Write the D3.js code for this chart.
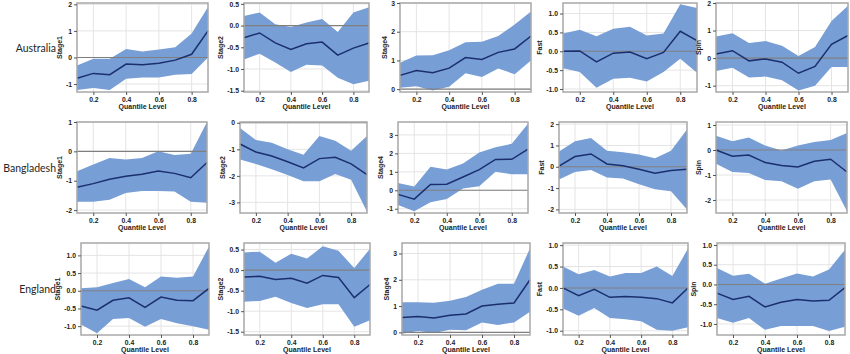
<!DOCTYPE html>
<html><head><meta charset="utf-8">
<script src="https://cdn.jsdelivr.net/npm/d3@7"></script>
<style>body{margin:0;background:#fff}svg{display:block}</style>
</head><body>
<script>
// ---------- DATA ----------
const quantiles = [0.1,0.2,0.3,0.4,0.5,0.6,0.7,0.8,0.9];
const countries = ["Australia","Bangladesh","England"];
const stages = ["Stage1","Stage2","Stage4","Fast","Spin"];
const xTicks = [0.2,0.4,0.6,0.8];
const xTitle = "Quantile Level";

// Australia (rows = Stage1, Stage2, Stage4, Fast, Spin)
const ausMid = [
  [-0.78,-0.60,-0.65,-0.25,-0.27,-0.22,-0.10,0.12,1.00],
  [-0.28,-0.17,-0.40,-0.55,-0.42,-0.38,-0.68,-0.52,-0.40],
  [0.48,0.65,0.57,0.73,1.10,1.03,1.28,1.40,1.85],
  [0.00,0.01,-0.28,-0.05,-0.02,-0.20,-0.03,0.53,0.28],
  [0.15,0.27,-0.10,-0.03,-0.15,-0.55,-0.30,0.50,0.82]];
const ausLo = [
  [-1.22,-1.15,-1.22,-0.80,-0.75,-0.75,-0.65,-0.62,0.00],
  [-0.78,-0.65,-0.85,-1.07,-0.90,-0.92,-1.20,-1.35,-1.27],
  [0.05,0.10,-0.05,0.08,0.55,0.42,0.72,0.52,1.00],
  [-0.45,-0.55,-0.97,-0.73,-0.70,-0.80,-0.55,-0.20,-0.57],
  [-0.47,-0.35,-0.70,-0.67,-0.80,-1.18,-1.00,-0.32,-0.32]];
const ausHi = [
  [-0.30,-0.05,-0.05,0.32,0.22,0.30,0.38,0.90,1.90],
  [0.22,0.30,0.03,-0.03,0.07,0.15,-0.15,0.30,0.42],
  [0.92,1.17,1.18,1.35,1.63,1.65,1.85,2.25,2.70],
  [0.47,0.57,0.40,0.60,0.65,0.42,0.47,1.25,1.15],
  [0.78,0.90,0.55,0.62,0.45,0.08,0.40,1.35,1.90]];

// Bangladesh
const banMid = [
  [-1.22,-1.10,-0.95,-0.85,-0.78,-0.67,-0.75,-0.90,-0.38],
  [-0.80,-1.10,-1.25,-1.47,-1.70,-1.35,-1.30,-1.55,-1.95],
  [-0.22,-0.48,0.32,0.33,0.72,1.12,1.67,1.68,2.23],
  [0.03,0.48,0.60,0.13,0.05,-0.12,-0.30,-0.18,-0.12],
  [0.00,-0.25,-0.20,-0.50,-0.62,-0.68,-0.45,-0.37,-0.88]];
const banLo = [
  [-1.72,-1.72,-1.65,-1.42,-1.35,-1.35,-1.37,-1.72,-1.75],
  [-1.38,-1.55,-1.75,-1.97,-2.20,-2.20,-1.93,-2.15,-3.35],
  [-0.80,-1.13,-0.65,-0.47,0.10,0.22,1.00,0.87,0.87],
  [-0.60,-0.25,-0.15,-0.50,-0.55,-0.82,-1.05,-1.15,-2.00],
  [-0.55,-0.88,-0.92,-1.20,-1.25,-1.55,-1.25,-1.18,-2.45]];
const banHi = [
  [-0.68,-0.45,-0.23,-0.28,-0.23,0.00,-0.12,-0.08,1.00],
  [-0.20,-0.65,-0.75,-1.00,-1.20,-0.50,-0.68,-1.05,-0.50],
  [0.40,0.20,1.28,1.13,1.45,2.05,2.33,2.52,3.60],
  [0.72,1.20,1.35,0.75,0.68,0.58,0.40,0.75,1.75],
  [0.57,0.35,0.50,0.18,-0.02,0.18,0.32,0.40,0.68]];

// England
const engMid = [
  [-0.43,-0.55,-0.27,-0.20,-0.47,-0.18,-0.27,-0.28,0.07],
  [-0.17,-0.15,-0.23,-0.20,-0.32,-0.13,-0.18,-0.67,-0.35],
  [0.57,0.60,0.55,0.65,0.70,1.00,1.07,1.12,2.00],
  [0.00,-0.18,-0.03,-0.22,-0.20,-0.22,-0.25,-0.35,0.00],
  [-0.22,-0.38,-0.30,-0.57,-0.45,-0.38,-0.42,-0.40,-0.08]];
const engLo = [
  [-0.95,-1.20,-0.80,-0.77,-1.02,-0.80,-0.92,-1.00,-1.10],
  [-0.77,-0.75,-0.65,-0.80,-0.92,-0.83,-0.83,-1.38,-1.22],
  [-0.05,0.05,-0.02,0.10,0.08,0.38,0.28,0.38,0.78],
  [-0.48,-0.65,-0.47,-0.70,-0.73,-0.78,-0.98,-1.00,-0.92],
  [-0.85,-0.97,-0.85,-1.15,-1.05,-1.05,-1.05,-1.18,-1.07]];
const engHi = [
  [0.07,0.10,0.22,0.33,0.10,0.40,0.37,0.40,1.25],
  [0.43,0.45,0.18,0.40,0.28,0.58,0.47,0.05,0.52],
  [1.15,1.15,1.13,1.20,1.35,1.62,1.85,1.85,3.20],
  [0.50,0.32,0.42,0.27,0.35,0.35,0.50,0.28,0.92],
  [0.42,0.22,0.27,0.02,0.15,0.28,0.20,0.38,0.88]];

// y tick labels per panel
const ausTicks = [[-1,0,1,2],[-1.5,-1.0,-0.5,0.0,0.5],[0,1,2,3],[-1.0,-0.5,0.0,0.5,1.0],[-1,0,1,2]];
const banTicks = [[-2,-1,0,1],[-3,-2,-1,0],[-1,0,1,2,3],[-2,-1,0,1,2],[-2,-1,0,1]];
const engTicks = [[-1.0,-0.5,0.0,0.5,1.0],[-1.5,-1.0,-0.5,0.0,0.5],[0,1,2,3],[-1.0,-0.5,0.0,0.5,1.0],[-1.0,-0.5,0.0,0.5,1.0]];
const decimalTicks = [[false,true,false,true,false],[false,false,false,false,false],[true,true,false,true,true]];

// y-axis extents per panel
const ausDomain = [[-1.3,2.05],[-1.53,0.52],[-0.1,3.0],[-1.08,1.28],[-1.23,2.0]];
const banDomain = [[-2.1,1.0],[-3.4,0.03],[-1.23,3.7],[-2.17,2.1],[-2.52,1.12]];
const engDomain = [[-1.25,1.35],[-1.58,0.66],[-0.1,3.4],[-1.1,1.05],[-1.28,1.05]];

const mids = [ausMid, banMid, engMid];
const los = [ausLo, banLo, engLo];
const his = [ausHi, banHi, engHi];
const ticksAll = [ausTicks, banTicks, engTicks];
const domains = [ausDomain, banDomain, engDomain];

// ---------- LAYOUT ----------
const W = 850, H = 354;
const rowBox = [[3,92],[122,213],[243,335]];
const colBox = [
  [[77,208],[244,369],[400,531],[563,697],[716,848]],
  [[77,207],[240,367],[398,528],[559,687],[716,847]],
  [[81,209],[244,370],[402,530],[563,688],[717,845]]];
const labelRight = 56;

const BAND = "#789ed6", LINE = "#1b2f6d", FRAME = "#a8a8a8", GRID = "#e4e4e4", ZERO = "#7f7f7f";
const tickFont = "Liberation Sans, Arial, sans-serif";

const svg = d3.select("body").append("svg").attr("width", W).attr("height", H);

function fmt(v, dec){
  const s = dec ? v.toFixed(1) : String(Math.round(v));
  return s.replace("\u2212","-");
}

countries.forEach((country, r) => {
  const [top, bottom] = rowBox[r];
  svg.append("text")
    .attr("x", labelRight).attr("y", (top+bottom)/2 + 4)
    .attr("text-anchor","end")
    .attr("font-family","Lato, Open Sans, sans-serif")
    .attr("font-size", 10.5).attr("fill","#262626")
    .text(country);

  stages.forEach((stage, c) => {
    const [left, right] = colBox[r][c];
    const x = d3.scaleLinear().domain([0.1,0.9]).range([left, right]);
    const y = d3.scaleLinear().domain(domains[r][c]).range([bottom, top]);
    const g = svg.append("g");
    const yt = ticksAll[r][c];
    const dec = decimalTicks[r][c];

    // grid
    g.selectAll(".gx").data(xTicks).enter().append("line")
      .attr("x1", d=>x(d)).attr("x2", d=>x(d)).attr("y1", top).attr("y2", bottom)
      .attr("stroke", GRID).attr("stroke-width",1);
    g.selectAll(".gy").data(yt).enter().append("line")
      .attr("x1", left).attr("x2", right).attr("y1", d=>y(d)).attr("y2", d=>y(d))
      .attr("stroke", GRID).attr("stroke-width",1);

    const pts = quantiles.map((q,i)=>({q, m: mids[r][c][i], lo: los[r][c][i], hi: his[r][c][i]}));
    g.append("path").datum(pts)
      .attr("d", d3.area().x(d=>x(d.q)).y0(d=>y(d.lo)).y1(d=>y(d.hi)))
      .attr("fill", BAND);
    g.append("line").attr("x1", left).attr("x2", right).attr("y1", y(0)).attr("y2", y(0))
      .attr("stroke", ZERO).attr("stroke-width",1.1);
    g.append("path").datum(pts)
      .attr("d", d3.line().x(d=>x(d.q)).y(d=>y(d.m)))
      .attr("fill","none").attr("stroke", LINE).attr("stroke-width",1.5);

    g.append("rect").attr("x", left).attr("y", top).attr("width", right-left).attr("height", bottom-top)
      .attr("fill","none").attr("stroke", FRAME).attr("stroke-width",1.5);

    // axes
    const ax = g.append("g").attr("transform", `translate(0,${bottom})`)
      .call(d3.axisBottom(x).tickValues(xTicks).tickSize(3).tickPadding(2).tickFormat(d=>d.toFixed(1)));
    const ay = g.append("g").attr("transform", `translate(${left},0)`)
      .call(d3.axisLeft(y).tickValues(yt).tickSize(3).tickPadding(2).tickFormat(d=>fmt(d,dec)));
    [ax, ay].forEach(a => {
      a.select(".domain").remove();
      a.selectAll(".tick line").attr("stroke","#555");
      a.selectAll(".tick text").attr("font-family", tickFont).attr("font-size", 6.8)
        .attr("font-weight","bold").attr("fill","#222");
    });
    let maxW = 0;
    ay.selectAll(".tick text").each(function(){ maxW = Math.max(maxW, this.getComputedTextLength()); });

    g.append("text").attr("x", (left+right)/2).attr("y", bottom + 16.5)
      .attr("text-anchor","middle").attr("font-family", tickFont).attr("font-size", 7)
      .attr("font-weight","bold").attr("fill","#222").text(xTitle);
    const tx = left - 5 - maxW - 4;
    g.append("text").attr("transform", `translate(${tx},${(top+bottom)/2}) rotate(-90)`)
      .attr("text-anchor","middle").attr("font-family", tickFont).attr("font-size", 7)
      .attr("font-weight","bold").attr("fill","#222").text(stage);
  });
});
</script>
</body></html>
